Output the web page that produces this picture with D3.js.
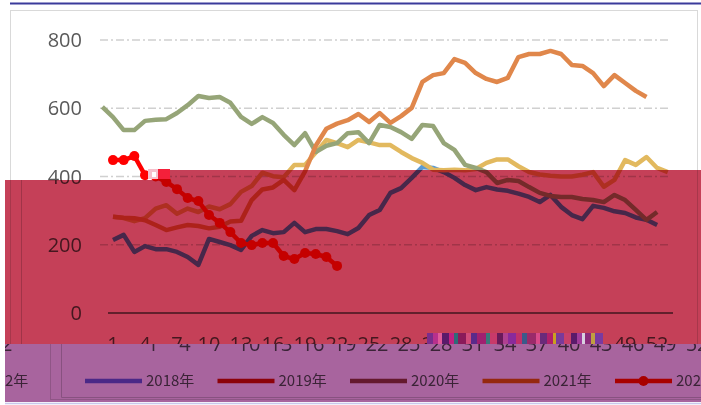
<!DOCTYPE html>
<html>
<head>
<meta charset="utf-8">
<script src="https://cdn.jsdelivr.net/npm/d3@7/dist/d3.min.js"></script>
<style>
  html, body { margin: 0; padding: 0; background: #fff; }
  svg { display: block; }
  .num { font-family: "Open Sans", sans-serif; font-size: 20px; fill: #595959; }
  .leg { font-family: "Noto Sans CJK SC", sans-serif; font-size: 15px; fill: #595959; }
</style>
</head>
<body>
<svg id="chart" width="701" height="405"></svg>
<script>
// weekly values
const yTicks = [0, 200, 400, 600, 800];
const xTicks = d3.range(1, 53, 3); // 1,4,...,52
const years = ["2018年", "2019年", "2020年", "2021年", "2022年"];

const v2018 = [214,229,179,196,187,187,179,164,141,217,208,199,185,226,243,234,237,264,237,246,
  246,240,231,249,287,302,352,366,396,428,425,413,396,375,360,369,362,358,350,340,
  325,346,311,287,275,314,308,298,293,280,273,258];
const v2019 = [282,278,269,278,306,316,291,306,296,312,304,319,355,372,411,401,398,434,434,470,
  507,498,486,507,500,492,492,472,454,440,420,418,420,418,422,440,450,450,430,413,
  406,402,400,400,405,413,370,390,448,434,457,425,413];
// this one sits one week further left in the picture (starts at "week 0")
const v2020 = [604,574,536,536,563,566,568,586,609,636,630,633,616,575,554,574,557,522,492,527,
  472,490,498,527,530,498,551,545,530,510,551,548,498,478,434,425,413,381,390,387,
  369,352,343,340,340,334,331,325,346,331,302,273,296];
const v2021 = [282,279,278,272,258,243,251,258,255,248,253,268,270,331,362,368,390,360,415,490,
  540,555,565,583,560,586,557,577,601,677,697,703,744,733,703,686,677,689,750,759,
  759,768,759,727,724,703,665,697,674,651,633];
const v2022 = [448,448,460,404,400,384,363,337,328,287,264,237,205,199,205,205,167,158,176,173,
  164,138];

const startWeek = [1, 1, 0, 1, 1];
const values = [v2018, v2019, v2020, v2021, v2022];
const colors = ["#5b9bd5", "#e2b95f", "#96a578", "#e0874b", "#ff0000"];
const legendColors = ["#7266da", "#d40510", "#984049", "#e36618", "#ff0000"];

const svg = d3.select("#chart");
const x = d3.scaleLinear().domain([1, 53]).range([113, 667.8]);
const y = d3.scaleLinear().domain([0, 800]).range([313, 40]);

svg.append("rect").attr("width", 701).attr("height", 405).attr("fill", "#fff");

function drawChart(g, withFrame) {
  if (withFrame) {
    g.append("rect")
      .attr("x", 10.5).attr("y", 10.5).attr("width", 687).attr("height", 389)
      .attr("fill", "none").attr("stroke", "#d9d9d9");

    // box line seen at the left of the lower part
    g.append("path")
      .attr("d", "M21.5,180V397.5H690")
      .attr("fill", "none").attr("stroke", "#cfcfcf");
  }

  g.selectAll(".grid")
    .data(yTicks.slice(1))
    .enter().append("line")
    .attr("x1", 100).attr("x2", 668)
    .attr("y1", (d) => y(d)).attr("y2", (d) => y(d))
    .attr("stroke", "#d0d0d0").attr("stroke-width", 1.4)
    .attr("stroke-dasharray", "8,3,2,3");

  g.append("line")
    .attr("x1", 108).attr("x2", 673)
    .attr("y1", y(0)).attr("y2", y(0))
    .attr("stroke", "#7f7f7f").attr("stroke-width", 2);

  g.selectAll(".ylab")
    .data(yTicks)
    .enter().append("text")
    .attr("class", "num")
    .attr("x", 82).attr("y", (d) => y(d)).attr("dy", "0.35em")
    .attr("text-anchor", "end")
    .text((d) => d);

  g.selectAll(".xlab")
    .data(xTicks)
    .enter().append("text")
    .attr("class", "num")
    .attr("x", (d) => x(d)).attr("y", 351)
    .attr("text-anchor", "middle")
    .text((d) => d);

  values.forEach((vals, k) => {
    const line = d3.line()
      .x((d, i) => x(startWeek[k] + i))
      .y((d) => y(d));
    g.append("path")
      .datum(vals)
      .attr("d", line)
      .attr("fill", "none")
      .attr("stroke", colors[k])
      .attr("stroke-width", 4.5)
      .attr("stroke-linejoin", "round");
  });

  // 2022 has round markers
  g.selectAll(".dot")
    .data(v2022)
    .enter().append("circle")
    .attr("cx", (d, i) => x(startWeek[4] + i))
    .attr("cy", (d) => y(d))
    .attr("r", 5)
    .attr("fill", colors[4]);

  const leg = g.selectAll(".legitem")
    .data(years)
    .enter().append("g")
    .attr("transform", (d, i) => "translate(" + (45 + i * 132.5) + ",381)");
  leg.append("line")
    .attr("x1", 0).attr("x2", 57)
    .attr("stroke", (d, i) => legendColors[i]).attr("stroke-width", 4.5);
  leg.filter((d, i) => i === 4).append("circle")
    .attr("cx", 28.5).attr("r", 5).attr("fill", legendColors[4]);
  leg.append("text")
    .attr("class", "leg")
    .attr("x", 61).attr("dy", "0.35em")
    .text((d) => d);
}

drawChart(svg.append("g"), true);

// red tinted slab over the middle
svg.append("path")
  .attr("d", "M5,180H157V170H701V344H5Z")
  .attr("fill", "#c54058")
  .style("mix-blend-mode", "multiply");

// bottom band: same picture slid 40px to the right, wrapping round
const defs = svg.append("defs");
defs.append("clipPath").attr("id", "band")
  .append("rect").attr("x", 5).attr("y", 344).attr("width", 696).attr("height", 58);

const band = svg.append("g").attr("clip-path", "url(#band)");
band.append("rect").attr("x", 5).attr("y", 344).attr("width", 696).attr("height", 58).attr("fill", "#fff");
drawChart(band.append("g").attr("transform", "translate(40,0)"), true);
drawChart(band.append("g").attr("transform", "translate(-656,0)"), false);

svg.append("rect")
  .attr("x", 5).attr("y", 344).attr("width", 696).attr("height", 58)
  .attr("fill", "#a8649e")
  .style("mix-blend-mode", "multiply");

// torn strip under the axis labels
const noise = [
  ["#7a2d8c", 6], ["#b8308c", 5], ["#e05a9a", 4], ["#5a1a6a", 7], ["#c02080", 5],
  ["#2f6a78", 4], ["#8a1a5a", 8], ["#d04a7a", 5], ["#5a2a8a", 6], ["#a02070", 9],
  ["#3a7a7a", 4], ["#c83a6a", 7], ["#6a1a5a", 6], ["#b04090", 5], ["#8a2a9a", 8],
  ["#c0306a", 6], ["#3a5a8a", 5], ["#9a2a6a", 9], ["#d84a8a", 4], ["#6a2a7a", 7],
  ["#b0206a", 6], ["#caa020", 3], ["#7a3a9a", 8], ["#c8406a", 7], ["#5a1a6a", 6],
  ["#a03a9a", 5], ["#d8d0e0", 3], ["#8a2a7a", 6], ["#c0a040", 4], ["#7a3aa0", 8]
];
let nx = 427;
noise.forEach((n) => {
  svg.append("rect").attr("x", nx).attr("y", 333).attr("width", n[1]).attr("height", 11).attr("fill", n[0]);
  nx += n[1];
});

// small broken block near the 2022 line
svg.append("rect").attr("x", 148).attr("y", 169).attr("width", 10).attr("height", 10).attr("fill", "#f6c0cc");
svg.append("rect").attr("x", 152).attr("y", 172).attr("width", 4).attr("height", 5).attr("fill", "#fff");
svg.append("rect").attr("x", 158).attr("y", 169).attr("width", 12).attr("height", 10).attr("fill", "#f4203a");

// edge lines
svg.append("line").attr("x1", 10).attr("x2", 701).attr("y1", 3.5).attr("y2", 3.5)
  .attr("stroke", "#3b3b9b").attr("stroke-width", 2);
svg.append("line").attr("x1", 5).attr("x2", 701).attr("y1", 403.5).attr("y2", 403.5)
  .attr("stroke", "#c8c8ec").attr("stroke-width", 1.5);
</script>
</body>
</html>
